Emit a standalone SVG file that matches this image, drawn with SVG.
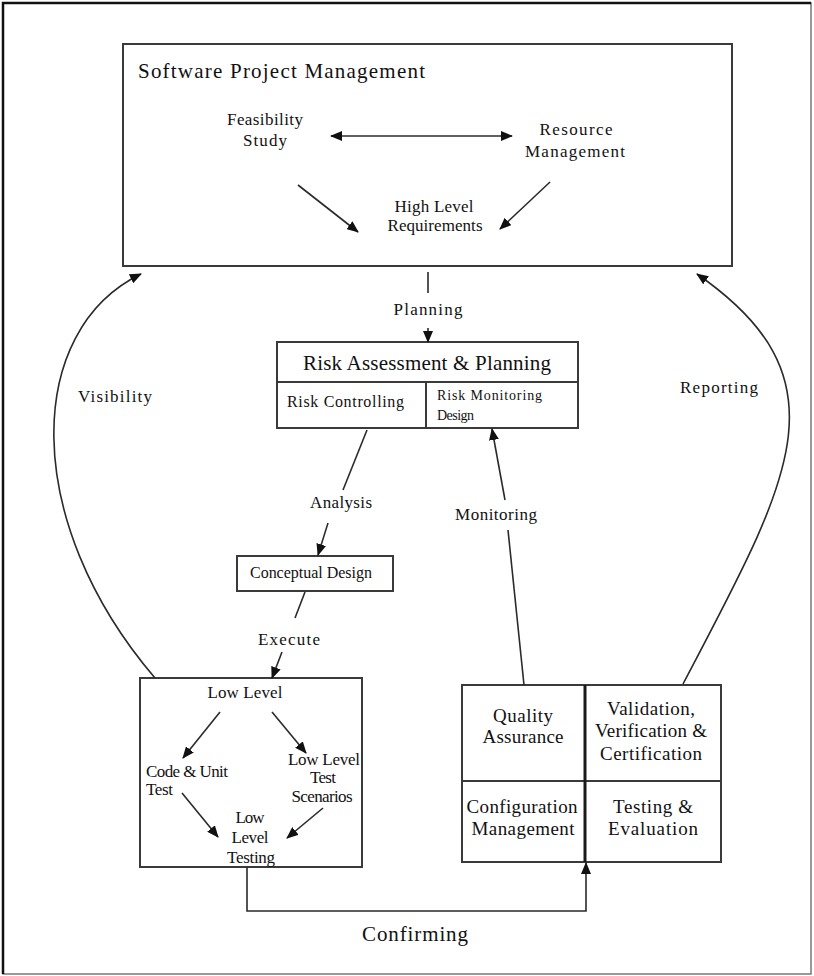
<svg xmlns="http://www.w3.org/2000/svg" width="814" height="976" viewBox="0 0 814 976">
  <defs>
    <marker id="arrow" viewBox="0 0 12 10" refX="11" refY="5" markerWidth="12" markerHeight="10" markerUnits="userSpaceOnUse" orient="auto">
      <path d="M0,0 L12,5 L0,10 Z" fill="#111"/>
    </marker>
    <marker id="arrowStart" viewBox="0 0 12 10" refX="1" refY="5" markerWidth="12" markerHeight="10" markerUnits="userSpaceOnUse" orient="auto">
      <path d="M12,0 L0,5 L12,10 Z" fill="#111"/>
    </marker>
  </defs>
  <style>
    text { font-family: "Liberation Serif", "Times New Roman", serif; fill: #111; }
    .box { fill: #fff; stroke: #3a3a3a; stroke-width: 2; }
    .div { stroke: #3a3a3a; stroke-width: 2; fill: none; }
    .thick { stroke: #1a1a1a; stroke-width: 3; fill: none; }
    .line { stroke: #2a2a2a; stroke-width: 1.6; fill: none; }
    .arr { stroke: #2a2a2a; stroke-width: 1.6; fill: none; marker-end: url(#arrow); }
    .t14 { font-size: 14px; }
    .t16 { font-size: 16px; }
    .t17 { font-size: 17px; }
    .t19 { font-size: 19px; }
    .t21 { font-size: 21px; }
    .c { text-anchor: middle; }
  </style>

  <!-- page frame -->
  <rect x="0" y="0" width="814" height="976" fill="#fff"/>
  <rect x="3" y="3" width="808" height="971" fill="none" stroke="#777" stroke-width="1.5"/>
  <path d="M3,974 L3,3 L811,3" fill="none" stroke="#111" stroke-width="2.5"/>

  <!-- Software Project Management -->
  <g id="spm">
    <rect class="box" x="123" y="44" width="609" height="222"/>
    <text class="t21" x="138" y="78" textLength="287">Software Project Management</text>
    <text class="t17 c" x="265" y="125" textLength="76">Feasibility</text>
    <text class="t17 c" x="265" y="146" textLength="44">Study</text>
    <text class="t17 c" x="576" y="135" textLength="73">Resource</text>
    <text class="t17 c" x="575" y="157" textLength="100">Management</text>
    <text class="t17 c" x="434" y="212" textLength="79">High Level</text>
    <text class="t17 c" x="435" y="231" textLength="95">Requirements</text>
    <line class="line" x1="331" y1="136" x2="512" y2="136" marker-start="url(#arrowStart)" marker-end="url(#arrow)"/>
    <line class="arr" x1="298" y1="185" x2="358" y2="232"/>
    <line class="arr" x1="550" y1="182" x2="500" y2="229"/>
  </g>

  <!-- Risk Assessment & Planning -->
  <g id="risk">
    <rect class="box" x="277" y="342" width="301" height="86"/>
    <line class="div" x1="277" y1="382" x2="578" y2="382"/>
    <line class="div" x1="426" y1="382" x2="426" y2="428"/>
    <text class="t21 c" x="427" y="370" textLength="248">Risk Assessment &amp; Planning</text>
    <text class="t16" x="287" y="407" textLength="117">Risk Controlling</text>
    <text class="t14" x="437" y="400" textLength="105">Risk Monitoring</text>
    <text class="t14" x="437" y="420" textLength="37">Design</text>
  </g>

  <!-- Conceptual Design -->
  <g id="conceptual">
    <rect class="box" x="237" y="556" width="156" height="35"/>
    <text class="t16 c" x="311" y="578" textLength="122">Conceptual Design</text>
  </g>

  <!-- Low Level -->
  <g id="lowlevel">
    <rect class="box" x="140" y="678" width="222" height="189"/>
    <text class="t17 c" x="245" y="698" textLength="75">Low Level</text>
    <text class="t17" x="146" y="777" textLength="82">Code &amp; Unit</text>
    <text class="t17" x="146" y="795" textLength="27">Test</text>
    <text class="t17 c" x="324" y="765" textLength="72">Low Level</text>
    <text class="t17 c" x="323" y="783" textLength="26">Test</text>
    <text class="t17 c" x="322" y="802" textLength="61">Scenarios</text>
    <text class="t17 c" x="250" y="823" textLength="29">Low</text>
    <text class="t17 c" x="250" y="843" textLength="37">Level</text>
    <text class="t17 c" x="251" y="863" textLength="48">Testing</text>
    <line class="arr" x1="220" y1="712" x2="183" y2="758"/>
    <line class="arr" x1="272" y1="712" x2="306" y2="753"/>
    <line class="arr" x1="182" y1="793" x2="218" y2="837"/>
    <line class="arr" x1="323" y1="808" x2="287" y2="838"/>
  </g>

  <!-- Quality / Validation / Configuration / Testing -->
  <g id="quality">
    <rect class="box" x="462" y="685" width="259" height="177"/>
    <line class="div" x1="462" y1="781" x2="721" y2="781"/>
    <line class="thick" x1="585" y1="685" x2="585" y2="862"/>
    <text class="t19 c" x="523" y="722" textLength="60">Quality</text>
    <text class="t19 c" x="523" y="743" textLength="81">Assurance</text>
    <text class="t19 c" x="651" y="715" textLength="88">Validation,</text>
    <text class="t19 c" x="651" y="737" textLength="112">Verification &amp;</text>
    <text class="t19 c" x="651" y="760" textLength="102">Certification</text>
    <text class="t19 c" x="522" y="813" textLength="111">Configuration</text>
    <text class="t19 c" x="523" y="835" textLength="103">Management</text>
    <text class="t19 c" x="653" y="813" textLength="80">Testing &amp;</text>
    <text class="t19 c" x="653" y="835" textLength="90">Evaluation</text>
  </g>

  <!-- connectors -->
  <g id="connectors">
    <line class="line" x1="428" y1="272" x2="428" y2="293"/>
    <line class="arr" x1="428" y1="328" x2="428" y2="342"/>
    <line class="line" x1="367" y1="430" x2="343" y2="490"/>
    <line class="arr" x1="328" y1="523" x2="318" y2="555"/>
    <line class="line" x1="305" y1="592" x2="295" y2="618"/>
    <line class="arr" x1="282" y1="652" x2="272" y2="678"/>
    <line class="line" x1="524" y1="685" x2="508" y2="530"/>
    <line class="arr" x1="505" y1="500" x2="492" y2="429"/>
    <path class="arr" d="M155,678 C20,520 25,330 141,274"/>
    <path class="arr" d="M683,684 C790,480 850,380 697,274"/>
    <path class="arr" d="M247,867 L247,911 L586,911 L586,863"/>
    <text class="t17 c" x="428" y="315" textLength="69">Planning</text>
    <text class="t17 c" x="341" y="508" textLength="62">Analysis</text>
    <text class="t17 c" x="289" y="645" textLength="62">Execute</text>
    <text class="t17 c" x="496" y="520" textLength="82">Monitoring</text>
    <text class="t17 c" x="115" y="402" textLength="74">Visibility</text>
    <text class="t17 c" x="719" y="393" textLength="78">Reporting</text>
    <text class="t21 c" x="415" y="941" textLength="106">Confirming</text>
  </g>
</svg>
